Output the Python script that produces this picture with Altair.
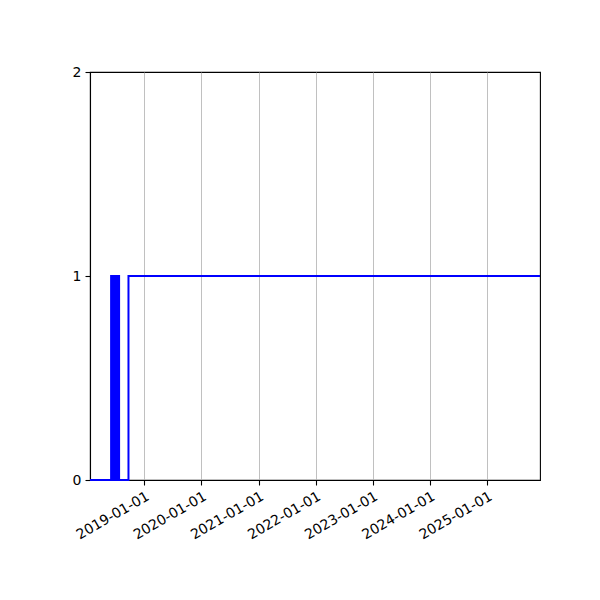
import altair as alt
import pandas as pd

# state changes (step-after)
dates = ["2018-01-19", "2018-06-03", "2018-06-07", "2018-06-14",
         "2018-06-16", "2018-06-18", "2018-06-20", "2018-06-22",
         "2018-06-24", "2018-06-26", "2018-06-28", "2018-06-30",
         "2018-07-02", "2018-07-04", "2018-07-06", "2018-07-08",
         "2018-07-10", "2018-07-12", "2018-07-14", "2018-07-16",
         "2018-07-18", "2018-07-20", "2018-07-22", "2018-07-24",
         "2018-09-22", "2025-12-05"]
values = [0, 1, 0, 1,
          0, 1, 0, 1,
          0, 1, 0, 1,
          0, 1, 0, 1,
          0, 1, 0, 1,
          0, 1, 1, 0,
          1, 1]

tick_years = [2019, 2020, 2021, 2022, 2023, 2024, 2025]
y_ticks = [0, 1, 2]

df = pd.DataFrame({"date": dates, "value": values})

x_ticks = [alt.DateTime(year=y, month=1, date=1, utc=True) for y in tick_years]

chart = alt.Chart(df).mark_line(
    color="#0000ff", strokeWidth=2, interpolate="step-after", clip=False
).encode(
    x=alt.X("date:T",
            scale=alt.Scale(type="utc",
                            domain=[alt.DateTime(year=2018, month=1, date=19, utc=True),
                                    alt.DateTime(year=2025, month=12, date=5, utc=True)]),
            axis=alt.Axis(values=x_ticks, format="%Y-%m-%d", title=None,
                          labelAngle=-30, labelAlign="right", labelBaseline="top",
                          grid=True, gridColor="#b0b0b0", gridWidth=0.8)),
    y=alt.Y("value:Q",
            scale=alt.Scale(domain=[0, 2], nice=False),
            axis=alt.Axis(values=y_ticks, tickCount=3, title=None, grid=False,
                          labelExpr="'' + round(datum.value)"))
).properties(
    width=450,
    height=408,
    autosize="none",
    padding={"left": 82, "top": 64, "right": 52, "bottom": 112}
).configure_view(
    stroke="black", strokeWidth=1.1
).configure_axis(
    domainColor="black", domainWidth=1.1,
    tickColor="black", tickSize=5, tickWidth=1.1,
    labelColor="black", labelFont="DejaVu Sans", labelFontSize=14,
    labelPadding=4, labelOverlap=False, labelFlush=False
)

chart.save("out.html", embed_options={"renderer": "svg", "actions": False})
